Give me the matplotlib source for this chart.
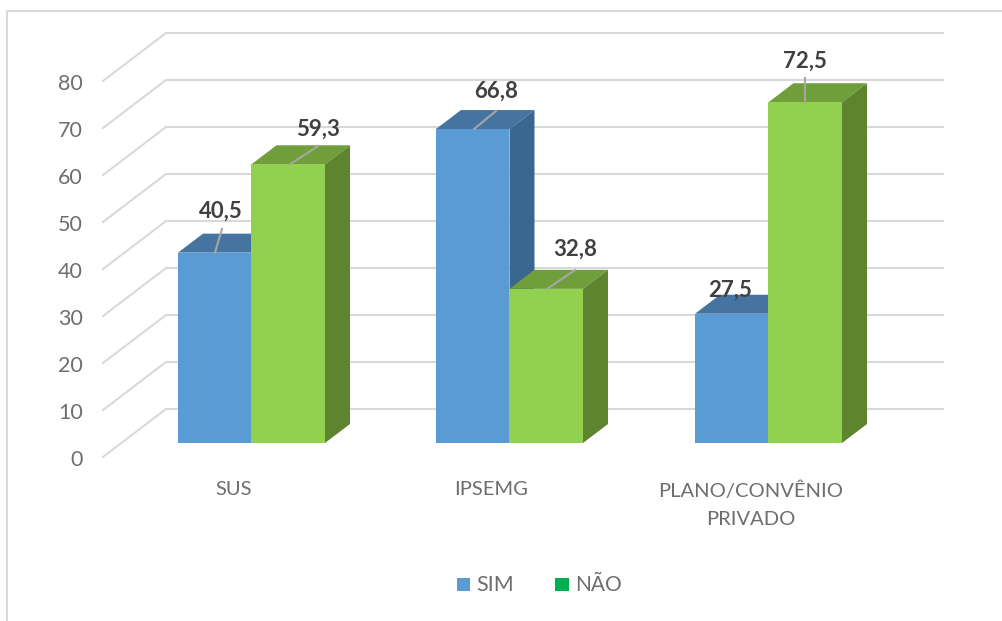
#!/usr/bin/env python3
import matplotlib
matplotlib.use('Agg')
import matplotlib.pyplot as plt
from matplotlib.patches import Polygon, Rectangle

categories = ['SUS', 'IPSEMG', 'PLANO/CONVÊNIO\nPRIVADO']
sim = [40.5, 66.8, 27.5]
nao = [59.3, 32.8, 72.5]
yticks = [0, 10, 20, 30, 40, 50, 60, 70, 80]

plt.rcParams['font.family'] = ['Lato', 'DejaVu Sans']

# escala: 4.7 px por unidade, zero da frente em y=443 px
PX = 4.7
ZERO = 443
DEPTH_X = 25
DEPTH_Y = 19 / PX
BAR_W = 73.5
BAR_LEFT = [178, 436, 695]


def ypx(p):
    return (ZERO - p) / PX


fig = plt.figure(figsize=(10.03, 6.21), dpi=100)
ax = fig.add_axes([0, 0, 1, 1])
ax.set_xlim(0, 1003)
ax.set_ylim(ypx(621), ypx(0))
ax.axis('off')

# moldura
ax.plot([7, 7, 1003], [ypx(621), ypx(11), ypx(11)], color='#D9D9D9', lw=1.5, zorder=1)

# grade: lateral + fundo
for v in yticks:
    yf = v + ypx(457)
    yb = v + ypx(409)
    ax.plot([103, 166, 943], [yf, yb, yb], color='#D9D9D9', lw=1.5,
            solid_joinstyle='miter', zorder=2)
    ax.text(83, v + ypx(460), str(v), ha='right', va='center', fontsize=15.5,
            color='#6E6E6E', zorder=5)


def bar3d(x, w, v, front, top, side):
    ax.add_patch(Polygon([(x, v), (x + DEPTH_X, v + DEPTH_Y), (x + w + DEPTH_X, v + DEPTH_Y),
                          (x + w, v)], facecolor=top, edgecolor='none', zorder=3))
    ax.add_patch(Polygon([(x + w, 0), (x + w + DEPTH_X, DEPTH_Y), (x + w + DEPTH_X, v + DEPTH_Y),
                          (x + w, v)], facecolor=side, edgecolor='none', zorder=3))
    ax.add_patch(Rectangle((x, 0), w, v, facecolor=front, edgecolor='none', zorder=3.1))


for i, x in enumerate(BAR_LEFT):
    bar3d(x, BAR_W, sim[i], '#5B9BD5', '#44749F', '#3A678F')
    bar3d(x + BAR_W, BAR_W, nao[i], '#92D050', '#6F9E3A', '#5F8430')

# rótulos com linha de chamada: (x base, x fim, y fim, x texto, y texto) em px
sim_labels = [(215, 222, 229, 221, 211), (474, 496, 111, 496, 91), (None, None, None, 730, 290)]
nao_labels = [(290, 318, 146, 318, 129), (547, 575, 270, 575, 249), (805, 805, 78, 805, 61)]
for vals, labels in ((sim, sim_labels), (nao, nao_labels)):
    for v, (x0, x1, y1, tx, ty) in zip(vals, labels):
        if x0 is not None:
            ax.plot([x0, x1], [v, ypx(y1)], color='#A6A6A6', lw=1.5, zorder=4)
        ax.text(tx, ypx(ty), f'{v:.1f}'.replace('.', ','), ha='center', va='center',
                fontsize=16, fontweight='bold', color='#404040', zorder=5)

# categorias
cat_x = [234, 491, 751]
for x, c in zip(cat_x, categories):
    ax.text(x, ypx(481), c, ha='center', va='top', fontsize=14.5, color='#6E6E6E',
            linespacing=1.85, zorder=5)

# legenda
ax.add_patch(Rectangle((457, ypx(591)), 13, 13 / PX, facecolor='#5B9BD5', edgecolor='none'))
ax.add_patch(Rectangle((555, ypx(591)), 14, 13 / PX, facecolor='#00B050', edgecolor='none'))
ax.text(476, ypx(585), 'SIM', ha='left', va='center', fontsize=15.5, color='#6E6E6E')
ax.text(575, ypx(585), 'NÃO', ha='left', va='center', fontsize=15, color='#6E6E6E')

fig.savefig('out.png', dpi=100, facecolor='white')
